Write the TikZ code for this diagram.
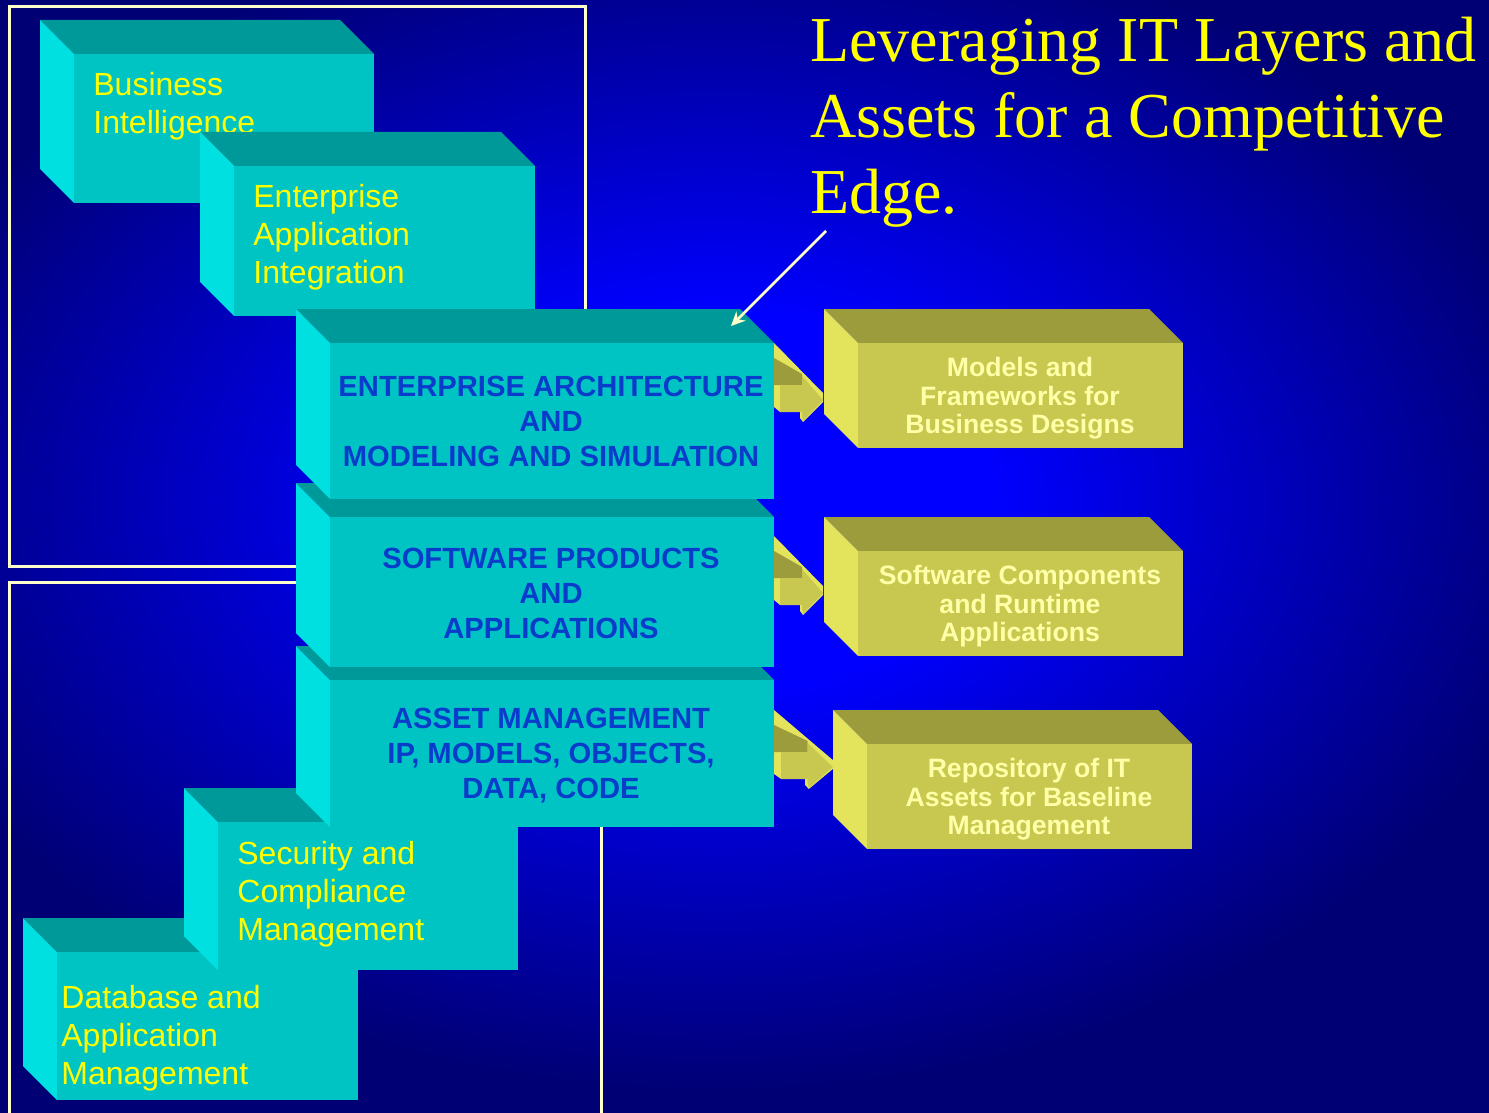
\documentclass[tikz,border=0pt]{standalone}
\usepackage{fontspec}
\setmainfont{Liberation Serif}
\newfontfamily\arialf{Liberation Sans}
\usetikzlibrary{arrows.meta}
\definecolor{bgcore}{HTML}{0000FF}
\definecolor{bgedge}{HTML}{000074}
\definecolor{cyfront}{HTML}{00C4C4}
\definecolor{cytop}{HTML}{009999}
\definecolor{cyleft}{HTML}{00E0E0}
\definecolor{yefront}{HTML}{C8C850}
\definecolor{yetop}{HTML}{9C9C3C}
\definecolor{yeleft}{HTML}{E3E35C}
\definecolor{txtyel}{HTML}{FFFF00}
\definecolor{txtblue}{HTML}{0A3CCC}
\definecolor{txtcream}{HTML}{FFFFA8}
\definecolor{framecol}{HTML}{FFFFCC}
\pgfdeclareradialshading{bgglow}{\pgfpointorigin}{color(0bp)=(bgcore); color(4.4bp)=(bgcore); color(13.75bp)=(bgedge); color(50bp)=(bgedge)}
% #1 x1, #2 y1, #3 x2, #4 y2 (front face), #5 depth, #6 front, #7 top, #8 left
\newcommand\cubebox[8]{%
  \fill[#7] (#1-#5,#2-#5) -- (#3-#5,#2-#5) -- (#3,#2) -- (#1,#2) -- cycle;
  \fill[#8] (#1-#5,#2-#5) -- (#1,#2) -- (#1,#4) -- (#1-#5,#4-#5) -- cycle;
  \fill[#6] (#1,#2) rectangle (#3,#4);}
% #1 ox, #2 oy, #3 xscale
\newcommand\yarrow[3]{%
  \begin{scope}[shift={(#1,#2)}, xscale=#3]
    \fill[yeleft] (0,-2) -- (49,48) -- (49,57) -- (29,77) -- (26,73) -- (26,67) -- (6,67) -- (0,62) -- cycle;
    \fill[yetop] (0,13) -- (28,29) -- (28,40) -- (0,40) -- cycle;
    \fill[yefront] (6,40) rectangle (28,67);
    \fill[yefront] (28,31) -- (49,55) -- (29,76) -- (28,70) -- cycle;
  \end{scope}}
\tikzset{
  lefttxt/.style={font=\arialf\fontsize{16}{19}\selectfont, text=txtyel, align=left, inner sep=0pt, anchor=north west},
  midtxt/.style={font=\arialf\bfseries\fontsize{14.6}{17.5}\selectfont, text=txtblue, align=center, inner sep=0pt, anchor=north},
  yeltxt/.style={font=\arialf\bfseries\fontsize{13.3}{14.25}\selectfont, text=txtcream, align=center, inner sep=0pt, anchor=north},
  titletxt/.style={font=\fontsize{32}{38}\selectfont, text=txtyel, align=left, inner sep=0pt, anchor=north west},
  framestyle/.style={draw=framecol, line width=1.5pt},
  pointer/.style={draw=framecol, line width=1.4pt, -{Stealth[length=7pt,width=6.5pt]}}
}
\begin{document}
\begin{tikzpicture}[x=0.5pt,y=-0.5pt]
\useasboundingbox (0,0) rectangle (1489,1113);
% background: elliptical glow, bright core fading to navy edges
\begin{scope}
  \clip (0,0) rectangle (1489,1113);
  \shade[shading=bgglow] (715-1560,500-1080) rectangle (715+1560,500+1080);
\end{scope}
% frames
\draw[framestyle] (9,7) rectangle (585,566);
\draw[framestyle] (9,1125) -- (9,582) -- (601,582) -- (601,1125);
% upper left boxes
\cubebox{74}{54}{374}{203}{34}{cyfront}{cytop}{cyleft}
\node[lefttxt] (bi) at (93,72) {Business\\Intelligence};
\cubebox{234}{166}{535}{316}{34}{cyfront}{cytop}{cyleft}
\node[lefttxt] (eai) at (253,184) {Enterprise\\Application\\Integration};
% lower left boxes
\cubebox{57}{952}{358}{1100}{34}{cyfront}{cytop}{cyleft}
\node[lefttxt] (db) at (61,985) {Database and\\Application\\Management};
\cubebox{218}{822}{518}{970}{34}{cyfront}{cytop}{cyleft}
\node[lefttxt] (sc) at (237,841) {Security and\\Compliance\\Management};
% central stack
\cubebox{330}{680}{774}{827}{34}{cyfront}{cytop}{cyleft}
\node[midtxt] (am) at (551,708) {ASSET MANAGEMENT\\IP, MODELS, OBJECTS,\\DATA, CODE};
\cubebox{330}{517}{774}{667}{34}{cyfront}{cytop}{cyleft}
\node[midtxt] (sp) at (551,548) {SOFTWARE PRODUCTS\\AND\\APPLICATIONS};
\cubebox{330}{343}{774}{499}{34}{cyfront}{cytop}{cyleft}
\node[midtxt] (ea) at (551,376) {ENTERPRISE ARCHITECTURE\\AND\\MODELING AND SIMULATION};
% 3D arrows
\yarrow{774}{345}{1}
\yarrow{774}{538}{1}
\yarrow{774}{712}{1.2}
% yellow boxes
\cubebox{858}{343}{1183}{448}{34}{yefront}{yetop}{yeleft}
\node[yeltxt] (y1) at (1020,357) {Models and\\Frameworks for\\Business Designs};
\cubebox{858}{551}{1183}{656}{34}{yefront}{yetop}{yeleft}
\node[yeltxt] (y2) at (1020,565) {Software Components\\and Runtime\\Applications};
\cubebox{867}{744}{1192}{849}{34}{yefront}{yetop}{yeleft}
\node[yeltxt] (y3) at (1029,758) {Repository of IT\\Assets for Baseline\\Management};
% title and pointer
\node[titletxt] (title) at (810,17) {Leveraging IT Layers and\\Assets for a Competitive\\Edge.};
\coordinate (ptail) at (826,231);
\coordinate (phead) at (731,326);
\draw[pointer] (ptail) -- (phead);
\end{tikzpicture}
\end{document}
